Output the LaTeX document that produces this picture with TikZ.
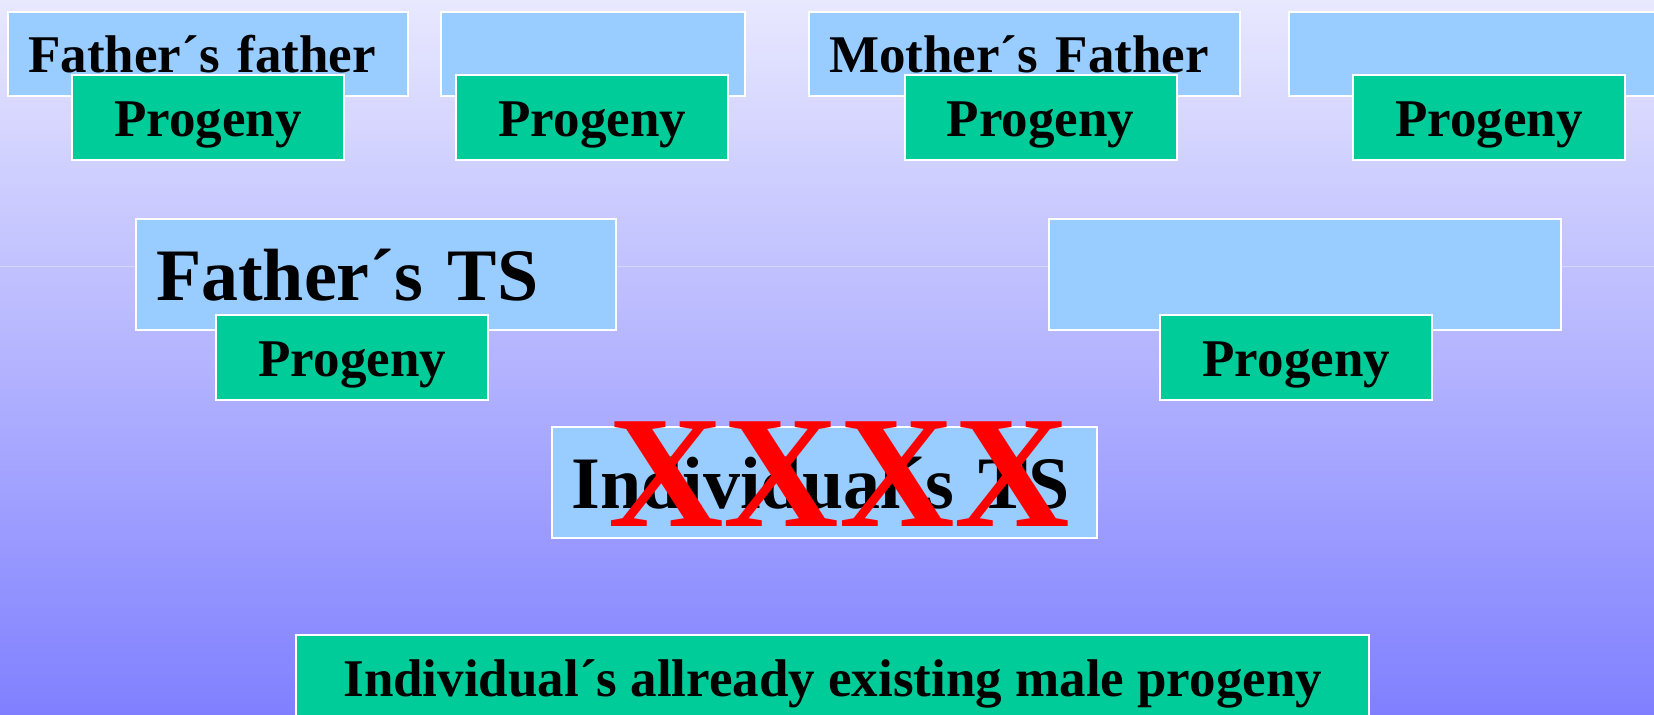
\documentclass[tikz,border=0pt]{standalone}
\usepackage{fontspec}
\setmainfont{Liberation Serif}
\usetikzlibrary{positioning,calc}
\definecolor{tsblue}{RGB}{153,204,255}
\definecolor{progreen}{RGB}{0,204,153}
\definecolor{bgtop}{RGB}{232,232,255}
\definecolor{bgbottom}{RGB}{128,128,255}
\tikzset{
    tsbox/.style={rectangle, draw=white, line width=1pt, fill=tsblue, inner xsep=10pt, inner ysep=0pt, text width=#1, align=left, minimum height=42.2pt, font=\bfseries\fontsize{26.5pt}{30pt}\selectfont, text height=18.5pt, text depth=0pt},
    tsbig/.style={minimum height=55.4pt, font=\bfseries\fontsize{37pt}{42pt}\selectfont, text height=26pt},
    progeny/.style={rectangle, draw=white, line width=1pt, fill=progreen, inner sep=0pt, minimum width=136.1pt, minimum height=42.7pt, font=\bfseries\fontsize{26.5pt}{30pt}\selectfont, text height=18.5pt, text depth=0pt},
    cross/.style={text=red, inner sep=0pt, anchor=base, font=\bfseries\fontsize{80pt}{90pt}\selectfont}
}
\begin{document}
\begin{tikzpicture}[x=0.5pt, y=-0.5pt]
    \useasboundingbox (0,0) rectangle (1654,715);
    \clip (0,0) rectangle (1654,715);
    % Background
    \shade [top color=bgtop, bottom color=bgbottom] (0,0) rectangle (1654,715);
    \draw [white, opacity=0.35, line width=0.5pt] (0,266.7) -- (1654,266.7);

    % Grandparents
    \node [tsbox=179.9pt] (ffather) at (208.3,53.8) {Father´s~father};
    \node [tsbox=131.9pt] (fmother) at (592.8,53.8) {};
    \node [tsbox=195.7pt] (mfather) at (1024.7,53.8) {Mother´s~Father};
    \node [tsbox=185.5pt] (mmother) at (1494.5,53.8) {};
    \node [progeny] (ffprog) at (207.8,117.6) {Progeny};
    \node [progeny] (fmprog) at (592.3,117.6) {Progeny};
    \node [progeny] (mfprog) at (1040.6,117.6) {Progeny};
    \node [progeny] (mmprog) at (1488.9,117.6) {Progeny};

    % Parents
    \node [tsbox=220pt, tsbig] (fts) at (376.05,274.8) {Father´s~TS};
    \node [tsbox=236.3pt, tsbig] (mts) at (1304.8,274.8) {};
    \node [progeny] (ftsprog) at (352.3,357.6) {Progeny};
    \node [progeny] (mtsprog) at (1296.3,357.6) {Progeny};

    % Individual
    \node [tsbox=252.65pt, tsbig] (its) at (824.35,482.8) {Individual´s~TS};
    \node [cross] (crossout) at (839.4,526.7) {XXXX};

    % Existing progeny
    \node [progeny, minimum width=536.35pt, minimum height=43.2pt] (malprog) at (832.75,678.2) {Individual´s allready existing male progeny};
\end{tikzpicture}
\end{document}
